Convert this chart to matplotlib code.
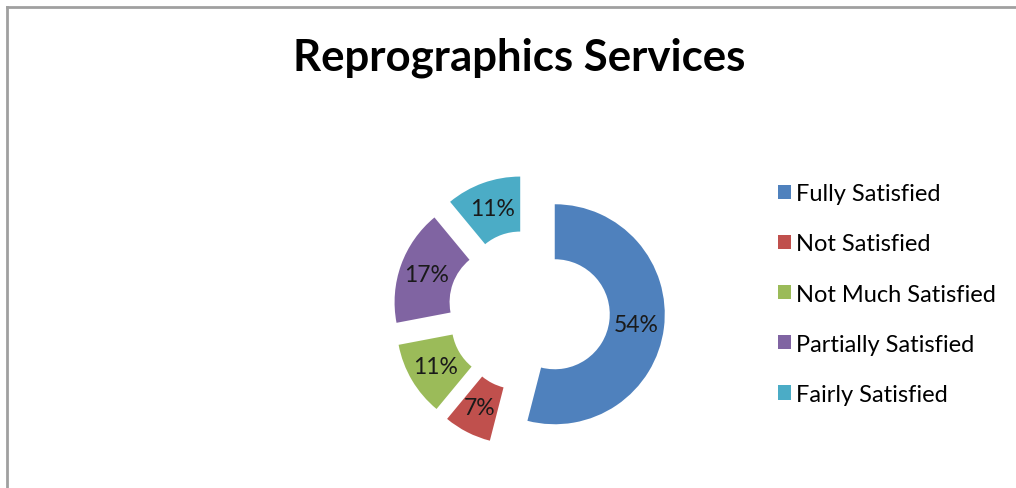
import matplotlib
matplotlib.use('Agg')
import matplotlib.pyplot as plt
from matplotlib.lines import Line2D

categories = ['Fully Satisfied', 'Not Satisfied', 'Not Much Satisfied',
              'Partially Satisfied', 'Fairly Satisfied']
shares = [54, 7, 11, 17, 11]
colors = ['#4F81BD', '#C0504D', '#9BBB59', '#8064A2', '#4BACC6']

W, H = 1016, 489
R = 110.0          # outer radius in pixels
cx, cy = 529, 312  # donut centre in pixels (from top-left)

plt.rcParams['font.family'] = ['Lato', 'DejaVu Sans']

fig = plt.figure(figsize=(W / 100, H / 100), dpi=100)
ax = fig.add_axes([0, 0, 1, 1])

wedges, texts, autotexts = ax.pie(
    shares, colors=colors, startangle=90, counterclock=False,
    explode=[0.236] * len(shares), radius=1.0,
    wedgeprops=dict(width=0.5, linewidth=0),
    autopct='%1.0f%%', pctdistance=0.75,
    textprops=dict(fontsize=16.5, color='#1a1a1a'))

ax.set_xlim(-cx / R, (W - cx) / R)
ax.set_ylim(-(H - cy) / R, cy / R)
ax.set_aspect('auto')
ax.axis('off')

fig.text(0.511, 1 - 71 / H, 'Reprographics Services', ha='center', va='baseline',
         fontsize=31.5, fontweight='bold')

ax.legend(wedges, categories, loc='upper left',
          bbox_to_anchor=(757 / W, 1 - 163 / H), frameon=False,
          fontsize=17, handlelength=0.55, handleheight=0.55,
          handletextpad=0.2, labelspacing=1.235)

# chart area border (only top and left edge visible)
fig.add_artist(Line2D([7 / W, 1], [1 - 8 / H, 1 - 8 / H], color='#a0a0a0', lw=2))
fig.add_artist(Line2D([7 / W, 7 / W], [0, 1 - 8 / H], color='#a0a0a0', lw=2))

fig.savefig('out.png', dpi=100)
